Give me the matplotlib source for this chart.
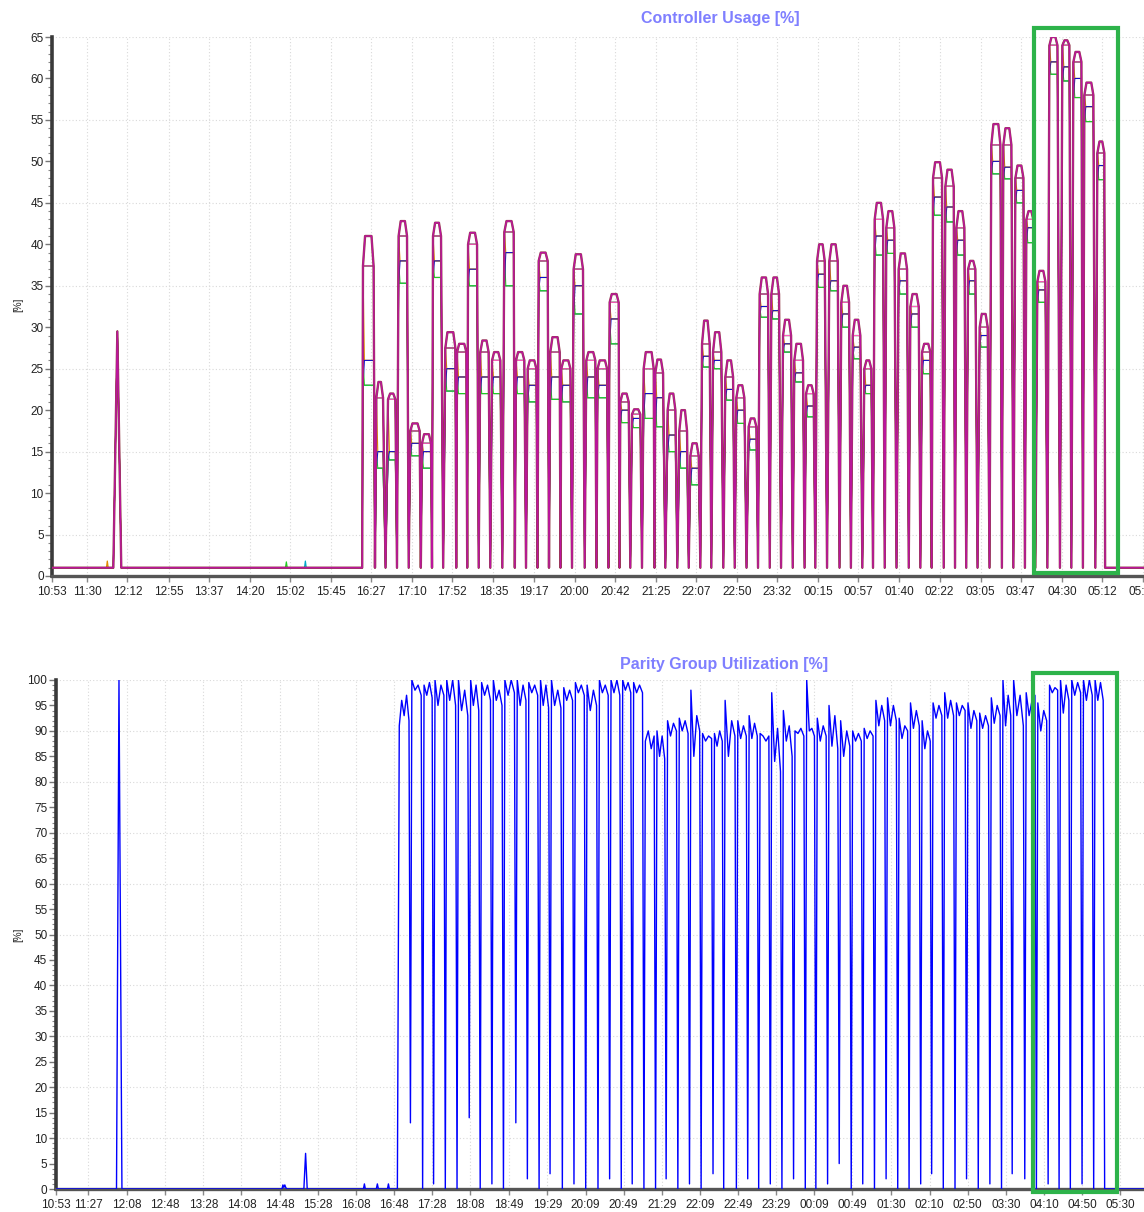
import matplotlib
matplotlib.use("Agg")
import matplotlib.pyplot as plt
from matplotlib.patches import Rectangle
from matplotlib.ticker import MultipleLocator
import numpy as np

plt.rcParams['font.family'] = ['Liberation Sans', 'DejaVu Sans']

# ---------------- data ----------------
top_title = "Controller Usage [%]"
bottom_title = "Parity Group Utilization [%]"
y_label = "[%]"
start_clock = "10:53"

top_tick_labels = ["10:53", "11:30", "12:12", "12:55", "13:37", "14:20", "15:02", "15:45",
                   "16:27", "17:10", "17:52", "18:35", "19:17", "20:00", "20:42", "21:25",
                   "22:07", "22:50", "23:32", "00:15", "00:57", "01:40", "02:22", "03:05",
                   "03:47", "04:30", "05:12", "05:55"]
bottom_tick_labels = ["10:53", "11:27", "12:08", "12:48", "13:28", "14:08", "14:48", "15:28",
                      "16:08", "16:48", "17:28", "18:08", "18:49", "19:29", "20:09", "20:49",
                      "21:29", "22:09", "22:49", "23:29", "00:09", "00:49", "01:30", "02:10",
                      "02:50", "03:30", "04:10", "04:50", "05:30"]

# minutes after 10:53
top_end = 1143.0
bottom_end = 1142.0
top_base = 1.0

# pre-activity part of controller usage (baseline + early spike)
top_pre_t = [0.0, 64.2, 68.4, 72.5]
top_pre_v = [1.0, 1.0, 29.5, 1.0]
bump_orange_t = [57.0, 57.9, 58.8]
bump_orange_v = [1.0, 1.8, 1.0]
bump_green_t = [244.4, 245.3, 246.2]
bump_green_v = [1.0, 1.7, 1.0]
bump_cyan_t = [264.3, 265.2, 266.1]
bump_cyan_v = [1.0, 1.8, 1.0]

pulse_start = [325.5, 339.5, 351.7, 362.8, 375.1, 387.3, 398.8, 411.7, 424.0, 435.5,
               448.3, 460.6, 473.5, 485.7, 497.9, 509.4, 521.6, 533.1, 546.0, 559.3,
               571.1, 583.7, 594.9, 607.1, 619.3, 631.5, 644.4, 656.6, 668.2, 680.4,
               691.9, 704.8, 716.3, 729.2, 740.7, 753.0, 765.2, 777.0, 789.3, 800.8,
               813.7, 826.2, 838.1, 850.3, 861.1, 873.3, 886.2, 898.5, 910.7, 922.2,
               935.1, 946.6, 958.9, 971.0, 983.2, 995.8, 1008.4, 1019.9, 1031.4, 1044.0,
               1057.6, 1069.1, 1080.6, 1094.2]
pulse_end = [336.6, 346.5, 359.4, 371.6, 384.8, 396.7, 407.2, 422.2, 433.7, 444.9,
             457.0, 469.3, 483.2, 494.4, 507.0, 518.8, 531.4, 542.6, 555.8, 568.7,
             581.0, 593.1, 603.6, 615.8, 629.8, 639.6, 652.5, 664.7, 676.9, 688.4,
             700.6, 712.9, 724.7, 737.3, 749.5, 761.0, 773.6, 786.1, 797.2, 808.8,
             822.4, 834.3, 846.1, 857.6, 869.9, 881.7, 895.0, 907.2, 919.4, 931.6,
             943.8, 955.0, 966.5, 979.4, 992.7, 1004.2, 1016.8, 1027.2, 1039.8, 1052.4,
             1064.9, 1077.5, 1090.0, 1101.5]
pulse_peak = [41.0, 23.4, 22.0, 42.8, 18.4, 17.1, 42.6, 29.4, 28.0, 41.4,
              28.4, 27.0, 42.8, 27.0, 26.0, 39.0, 28.8, 26.0, 38.8, 27.0,
              26.0, 34.0, 22.0, 20.1, 27.0, 26.1, 22.0, 20.0, 16.0, 30.8,
              29.4, 26.0, 23.0, 19.0, 36.0, 36.0, 30.9, 28.0, 23.0, 40.0,
              40.0, 35.0, 30.9, 26.0, 45.0, 44.0, 38.9, 34.0, 28.0, 49.9,
              49.0, 44.0, 38.0, 31.6, 54.5, 54.0, 49.5, 44.0, 36.8, 65.0,
              64.6, 63.2, 59.5, 52.4]
pulse_hi = [37.4, 21.5, 21.3, 41.0, 17.5, 16.0, 41.0, 27.5, 27.0, 40.0,
            27.0, 26.0, 41.5, 26.0, 25.0, 38.0, 27.0, 25.0, 37.0, 26.0,
            25.0, 33.0, 21.0, 19.5, 25.0, 24.5, 20.0, 17.5, 14.5, 28.0,
            27.0, 24.0, 21.5, 18.0, 34.0, 34.0, 29.0, 26.0, 22.0, 38.0,
            38.0, 33.0, 29.0, 25.0, 43.0, 42.0, 37.0, 32.5, 27.0, 48.0,
            47.0, 42.0, 37.0, 30.0, 52.0, 52.0, 48.0, 43.0, 35.5, 64.0,
            64.0, 62.0, 58.0, 51.0]
pulse_mid = [26.0, 15.0, 15.0, 38.0, 16.0, 15.0, 38.0, 25.0, 24.0, 37.0,
             24.0, 24.0, 39.0, 24.0, 23.0, 36.0, 24.0, 23.0, 35.0, 24.0,
             23.0, 31.0, 20.0, 19.0, 22.0, 21.5, 17.0, 15.0, 13.0, 26.5,
             26.0, 22.5, 20.0, 16.5, 32.5, 32.0, 28.0, 24.5, 20.5, 36.4,
             35.6, 31.6, 27.6, 23.0, 41.0, 40.5, 35.6, 31.6, 26.0, 45.7,
             44.5, 40.5, 35.6, 29.0, 50.0, 49.3, 46.5, 42.0, 34.5, 62.0,
             61.4, 60.0, 56.6, 49.5]
pulse_low = [23.0, 13.0, 14.0, 35.3, 14.5, 13.0, 36.0, 22.3, 22.0, 35.0,
             22.0, 22.0, 35.0, 22.0, 21.0, 34.4, 21.3, 21.0, 31.6, 21.5,
             21.5, 28.0, 18.5, 17.9, 19.0, 18.0, 15.0, 13.0, 11.0, 25.2,
             25.0, 21.2, 18.4, 15.2, 31.2, 31.0, 27.0, 23.4, 19.2, 34.8,
             34.4, 30.0, 26.2, 22.0, 38.7, 38.9, 34.0, 30.0, 24.4, 43.5,
             42.7, 38.7, 34.0, 27.6, 48.5, 47.9, 45.0, 40.2, 33.0, 60.5,
             59.7, 57.7, 54.8, 47.8]

# parity group utilization
bot_pre_t = [0.0, 63.9, 66.5, 69.6, 237.5, 238.5, 239.5, 240.5, 241.5, 242.5,
             260.5, 262.3, 264.0, 323.0, 324.0, 325.0, 336.5, 337.6, 338.7,
             348.2, 349.2, 350.2, 358.6]
bot_pre_v = [0.0, 0.0, 100.0, 0.0, 0.0, 0.8, 0.3, 0.8, 0.3, 0.0,
             0.0, 7.0, 0.0, 0.0, 1.0, 0.0, 0.0, 1.0, 0.0,
             0.0, 1.0, 0.0, 0.0]
bot_rise_end = 360.6
bot_fall = 1100.7
bot_dips = [372.3, 385.1, 396.6, 408.9, 421.2, 434.0, 445.5, 457.8, 469.9, 482.9,
            495.0, 507.3, 518.8, 531.7, 543.9, 556.2, 569.1, 581.3, 593.5, 605.0,
            617.3, 629.5, 640.6, 652.9, 665.1, 677.3, 689.8, 701.0, 714.3, 726.2,
            737.7, 749.9, 762.1, 774.3, 786.6, 797.7, 810.0, 822.2, 834.8, 846.9,
            859.2, 871.4, 883.6, 895.5, 907.7, 919.2, 931.4, 943.7, 955.8, 968.1,
            980.3, 992.5, 1003.7, 1016.9, 1029.1, 1041.4, 1052.9, 1064.7, 1077.0, 1089.2]
bot_dip_min = [13, 0, 1, 0, 0, 14, 0, 1, 0, 13,
               2, 0, 3, 0, 1, 0, 0, 2, 0, 1,
               0, 0, 2, 0, 1, 0, 3, 0, 0, 2,
               0, 1, 0, 2, 0, 0, 1, 5, 0, 1,
               0, 2, 0, 0, 1, 3, 0, 0, 2, 0,
               1, 0, 3, 2, 0, 1, 0, 0, 1, 0]
bot_segments = [
    [91, 96, 93, 97, 92], [100, 98, 99, 97], [99, 97, 99.5, 96.5], [100, 95, 99, 97],
    [100, 96, 100, 95], [100, 94, 98, 93], [100, 95, 99, 94], [99.5, 97, 99, 96],
    [100, 96, 98, 95], [100, 97, 100, 97.5], [100, 95, 99, 96], [99.5, 97.5, 99, 97],
    [100, 95, 99, 94.5], [100, 95, 98, 94.5], [98.5, 96, 98, 96], [99.5, 97.5, 99, 97],
    [99, 94, 98, 95], [100, 97.5, 99, 97], [100, 97.5, 100, 97], [100, 98, 99.5, 97.5],
    [99.5, 97.5, 99, 97.5], [88, 90, 86.5, 89], [90, 85, 89, 84.5], [92, 89, 91.5, 90],
    [92.5, 90, 92, 89.5], [98, 85, 93, 90], [89.5, 88, 89, 88.5], [89.5, 87, 90, 88],
    [96, 85, 92, 89], [92, 88.5, 91, 89], [93, 88.5, 91.5, 89], [89.5, 89, 88, 89],
    [97.5, 84, 90.5, 82], [94, 88, 91, 85], [90, 89.5, 90.5, 89], [100, 90, 90.5, 89],
    [92.5, 88, 91, 89], [95, 87, 93, 86.5], [92, 85, 90, 87], [90, 88, 89.5, 88],
    [90.5, 88.5, 90, 89], [96, 91, 95, 92], [96.5, 91, 95, 92], [92.5, 88.5, 91, 90],
    [95.5, 90.5, 94, 91], [92, 86.5, 90, 88], [95.5, 92.5, 95, 93], [97.5, 92.5, 96, 93],
    [95.5, 93, 95, 94], [95.5, 90.5, 94, 92], [93.5, 90.5, 93, 91], [96.5, 91.5, 95, 93],
    [100, 91, 97, 93], [100, 93, 97, 91], [97.5, 93, 96, 97], [95.5, 90, 94, 92],
    [99, 97.5, 98.5, 98], [100, 93.5, 99, 96], [100, 97, 99.5, 97.5], [100, 96, 100, 97],
    [100, 96, 99.5, 96]]

# highlighted (green box) interval, minutes after start, and value span
top_box_t = [1028.2, 1116.2]
top_box_v = [0.4, 66.1]
bot_box_t = [1025.7, 1113.6]
bot_box_v = [-0.6, 101.4]

assert len(pulse_start) == len(pulse_end) == len(pulse_peak) == len(pulse_hi) == len(pulse_mid) == len(pulse_low)
assert len(bot_dips) == len(bot_dip_min) == len(bot_segments) - 1


def to_min(s):
    h, m = map(int, s.split(":"))
    h0, m0 = map(int, start_clock.split(":"))
    t = h * 60 + m - (h0 * 60 + m0)
    return t + 1440 if t < 0 else t


# ---------------- series construction ----------------
def top_series(left, right, crest=None):
    """Pulses: edges at pulse_start/pulse_end, V-shaped valleys at top_base between pulses."""
    t = list(top_pre_t)
    v = list(top_pre_v)
    n = len(pulse_start)
    t.append(pulse_start[0] - 0.8)
    v.append(top_base)
    for i in range(n):
        s, e = pulse_start[i], pulse_end[i]
        if crest is None:
            t += [s, s + 1.5, e]
            v += [left[i], right[i], right[i]]
        else:
            t += [s, s + 2.2, e - 2.2, e]
            v += [left[i], crest[i], crest[i], right[i]]
        if i < n - 1:
            t.append(0.5 * (e + pulse_start[i + 1]))
        else:
            t.append(e + 0.8)
        v.append(top_base)
    t.append(top_end)
    v.append(top_base)
    return t, v


bt = list(bot_pre_t)
bv = list(bot_pre_v)
bounds = [bot_rise_end] + bot_dips + [bot_fall]
for k, seg in enumerate(bot_segments):
    a = bounds[k] + (0.0 if k == 0 else 1.5)
    b = bounds[k + 1] - 1.5
    bt += list(np.linspace(a, b, len(seg)))
    bv += list(seg)
    if k < len(bot_dips):
        bt.append(bot_dips[k])
        bv.append(bot_dip_min[k])
bt += [bot_fall, bottom_end]
bv += [0.0, 0.0]

# ---------------- figure ----------------
W, H = 1144, 1212
fig = plt.figure(figsize=(W / 100, H / 100), dpi=100)
ax1 = fig.add_axes([52 / W, 1 - 576 / H, 1 - 52 / W, (576 - 37) / H])
ax2 = fig.add_axes([55.6 / W, 1 - 1189 / H, 1 - 55.6 / W, (1189 - 680) / H])

grid_kw = dict(color="#d9d9d9", linestyle=(0, (1, 2)), linewidth=0.8)

colored = [
    ("#ff0000", pulse_low, pulse_low),
    ("#00c8d8", pulse_low, pulse_low),
    ("#22cc22", pulse_mid, pulse_low),
    ("#f0c800", pulse_mid, pulse_mid),
    ("#e08a00", pulse_hi, pulse_mid),
    ("#1010c8", pulse_low, pulse_mid),
    ("#2a7a2a", pulse_hi, pulse_hi),
    ("#202020", pulse_hi, pulse_hi),
    ("#ff60c0", pulse_hi, pulse_hi),
]
for col, L, R in colored:
    t, v = top_series(L, R)
    ax1.plot(t, v, color=col, lw=0.8, zorder=3)
ax1.plot(bump_orange_t, bump_orange_v, color="#e08a00", lw=0.9, zorder=3)
ax1.plot(bump_green_t, bump_green_v, color="#22cc22", lw=0.9, zorder=3)
ax1.plot(bump_cyan_t, bump_cyan_v, color="#00a8c8", lw=0.9, zorder=3)

t, v = top_series(pulse_hi, pulse_hi, crest=pulse_peak)
ax1.plot(t, v, color="#94404a", lw=1.7, zorder=4, solid_joinstyle="round")
ax1.plot(t, v, color="#c010a8", lw=1.0, zorder=5, solid_joinstyle="round", alpha=0.9)

ax2.plot(bt, bv, color="#0000ff", lw=1.0, zorder=4)

# axes styling
for ax, ymax, ticks, xend, gridy in (
        (ax1, 65, top_tick_labels, top_end, [5, 15, 25, 35, 45, 55, 65]),
        (ax2, 100, bottom_tick_labels, bottom_end, list(range(10, 101, 10)))):
    ax.set_xlim(0, xend)
    ax.set_ylim(0, ymax)
    ax.set_xticks([to_min(s) for s in ticks])
    ax.set_xticklabels(ticks)
    ax.yaxis.set_major_locator(MultipleLocator(5))
    ax.yaxis.set_minor_locator(MultipleLocator(1))
    for sp in ("top", "right"):
        ax.spines[sp].set_visible(False)
    ax.spines["left"].set_color("#3a3a3a")
    ax.spines["left"].set_linewidth(2.6)
    ax.spines["bottom"].set_color("#555555")
    ax.spines["bottom"].set_linewidth(2.4)
    ax.tick_params(axis="y", which="major", length=5, width=1, color="#777777",
                   labelsize=8.5, labelcolor="#222222", pad=1)
    ax.tick_params(axis="y", which="minor", length=3, width=0.8, color="#888888")
    ax.tick_params(axis="x", which="major", length=4, width=1, color="#888888",
                   labelsize=8.5, labelcolor="#222222", pad=3)
    ax.xaxis.grid(True, **grid_kw)
    ax.set_axisbelow(True)
    for g in gridy:
        ax.axhline(g, zorder=0, **grid_kw)

ax1.add_patch(Rectangle((top_box_t[0], top_box_v[0]), top_box_t[1] - top_box_t[0],
                        top_box_v[1] - top_box_v[0], fill=False, ec="#2db34a", lw=3,
                        clip_on=False, zorder=10))
ax2.add_patch(Rectangle((bot_box_t[0], bot_box_v[0]), bot_box_t[1] - bot_box_t[0],
                        bot_box_v[1] - bot_box_v[0], fill=False, ec="#2db34a", lw=3,
                        clip_on=False, zorder=10))

fig.text(720 / W, 1 - 19 / H, top_title, color="#7f7fff", fontsize=11.5,
         fontweight="bold", ha="center", va="center")
fig.text(724 / W, 1 - 664 / H, bottom_title, color="#7f7fff", fontsize=11.5,
         fontweight="bold", ha="center", va="center")
fig.text(18 / W, 1 - 305 / H, y_label, rotation=90, fontsize=7, ha="center", va="center",
         color="#222222")
fig.text(18 / W, 1 - 935 / H, y_label, rotation=90, fontsize=7, ha="center", va="center",
         color="#222222")

fig.savefig("out.png", dpi=100, facecolor="white")
